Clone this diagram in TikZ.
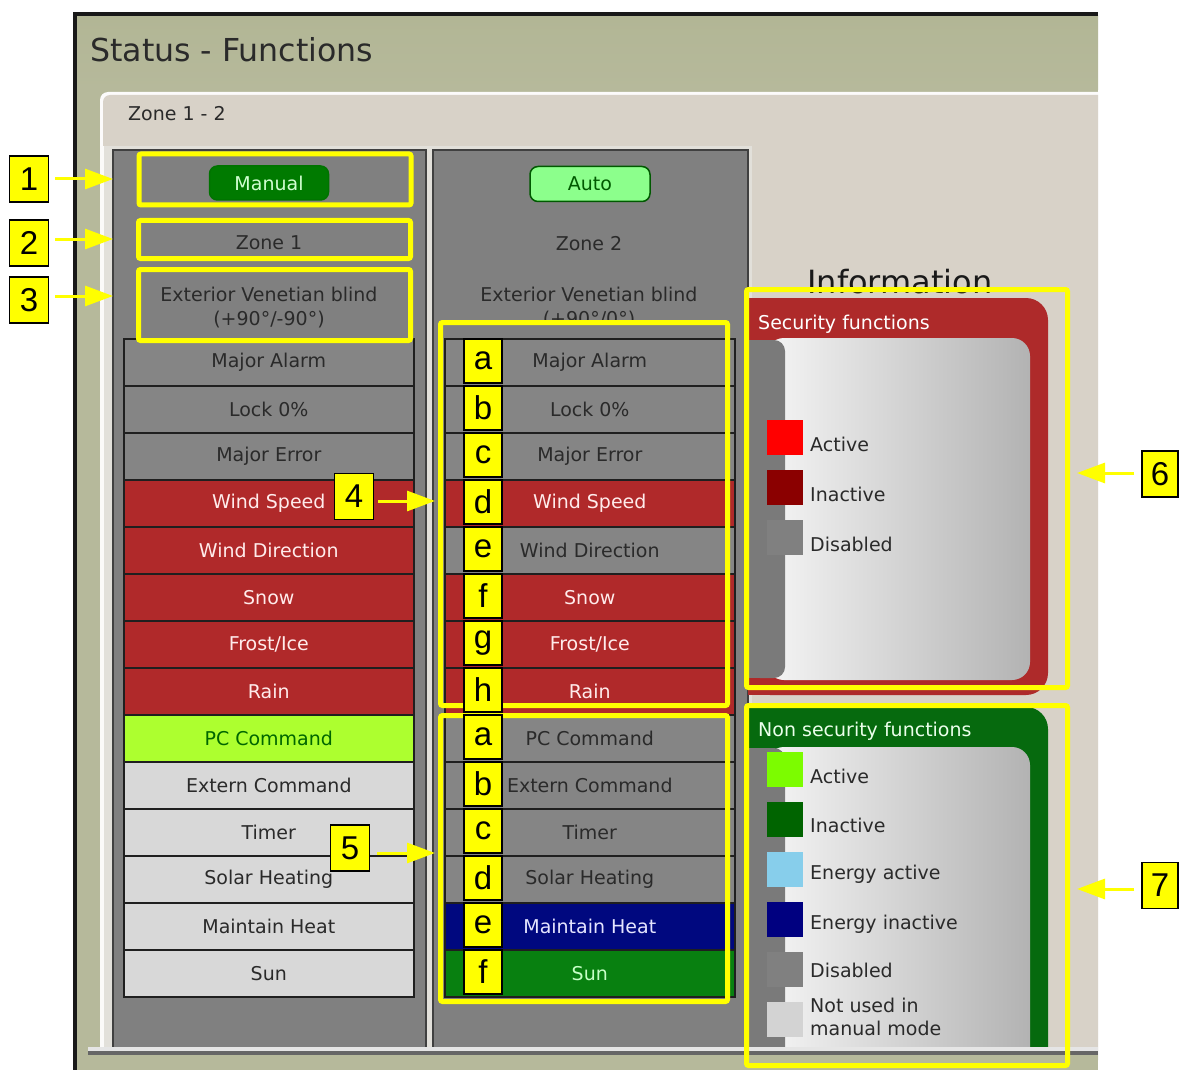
\documentclass[tikz,border=0pt]{standalone}
\usepackage{fontspec}
\setmainfont{DejaVu Sans}
\newfontfamily\calloutfont{Liberation Sans}
\usetikzlibrary{arrows.meta}

\definecolor{winolive}{HTML}{B6B99B}
\definecolor{wintitle}{HTML}{B2B695}
\definecolor{tabbg}{HTML}{D8D2C8}
\definecolor{pagebg}{HTML}{E2E0DA}
\definecolor{colgrey}{HTML}{808080}
\definecolor{rowgrey}{HTML}{858585}
\definecolor{rowred}{HTML}{B0292A}
\definecolor{rowlime}{HTML}{ADFF2F}
\definecolor{rowlight}{HTML}{D8D8D8}
\definecolor{rownavy}{HTML}{00087F}
\definecolor{rowgreen}{HTML}{088010}
\definecolor{secred}{HTML}{AE2A2A}
\definecolor{nsgreen}{HTML}{066A0E}
\definecolor{swred}{HTML}{FF0000}
\definecolor{swdarkred}{HTML}{8B0000}
\definecolor{swlime}{HTML}{7CFC00}
\definecolor{swgreen}{HTML}{006400}
\definecolor{swsky}{HTML}{87CEEB}
\definecolor{swnavy}{HTML}{000080}
\definecolor{swlight}{HTML}{D3D3D3}
\definecolor{callout}{HTML}{FFFF00}
\definecolor{uitext}{HTML}{2A2A2A}

\newcommand{\uifont}{\fontsize{19}{23}\selectfont}
\newcommand{\callfont}{\calloutfont\fontsize{33}{33}\selectfont}

\begin{document}
\begin{tikzpicture}[x=1pt,y=-1pt,
  fnrow/.style={draw=black!88, line width=1.6pt, minimum width=290pt,
    minimum height=47pt, inner sep=0pt, anchor=north west, font=\uifont},
  offrow/.style={fnrow, fill=rowgrey, text=uitext},
  redrow/.style={fnrow, fill=rowred, text=white!92!red},
  limerow/.style={fnrow, fill=rowlime, text=green!40!black},
  lightrow/.style={fnrow, fill=rowlight, text=uitext},
  navyrow/.style={fnrow, fill=rownavy, text=white!90!blue},
  greenrow/.style={fnrow, fill=rowgreen, text=green!22!white},
  uitxt/.style={font=\uifont, text=uitext, inner sep=0pt},
  swatch/.style={minimum width=36pt, minimum height=35pt, inner sep=0pt},
  legtext/.style={font=\uifont, text=uitext, anchor=west, inner sep=0pt, align=left},
  frame/.style={draw=callout, line width=5pt, rounded corners=2pt, inner sep=0pt},
  callbox/.style={draw=black, line width=1.5pt, fill=callout, inner sep=0pt,
    minimum width=39pt, minimum height=46pt, font=\callfont},
  letterbox/.style={draw=black, line width=1.5pt, fill=callout, inner sep=0pt,
    minimum width=38pt, minimum height=44pt, font=\callfont},
  callarrow/.style={draw=callout, line width=3pt, -{Triangle[length=28pt,width=20pt]}}
]
\useasboundingbox (0,0) rectangle (1179,1070);
\fill[white] (0,0) rectangle (1179,1070);

\begin{scope}
\clip (73,12) rectangle (1098,1070);
% ---- window frame and title bar ----
\fill[winolive] (73,12) rectangle (1098,1070);
\shade[top color=wintitle, bottom color=winolive] (77,16) rectangle (1098,90);
\fill[black!90] (73,12) rectangle (1098,16);
\fill[black!90] (73,12) rectangle (77,1070);
\node[anchor=base west, font=\fontsize{31.6}{36}\selectfont, text=uitext, inner sep=0pt]
  (title) at (90,62) {Status - Functions};

% ---- tab page ----
\fill[white!92!tabbg, rounded corners=8pt] (100,92) rectangle (1110,1060);
\fill[tabbg, rounded corners=7pt] (103,95) rectangle (1110,1060);
\node[uitxt, anchor=west] (tab) at (128,114) {Zone 1 - 2};
\fill[pagebg] (100,146) rectangle (752,1048);
\fill[white!85!pagebg] (100,146) rectangle (104,1048);

% ---- zone columns ----
\fill[colgrey] (113,150) rectangle (426,1048);
\draw[black!75, line width=2.5pt] (113,1048) -- (113,150) -- (426,150) -- (426,1048);
\fill[colgrey] (433,150) rectangle (748,1048);
\draw[black!75, line width=2.5pt] (433,1048) -- (433,150) -- (748,150) -- (748,1048);

% mode buttons
\node[draw=black!55!green, line width=1.5pt, fill=green!48!black, rounded corners=8pt,
  minimum width=119pt, minimum height=34pt, inner sep=0pt, font=\uifont,
  text=green!18!white] (manual) at (269,183) {Manual};
\node[draw=green!35!black, line width=1.5pt, fill=green!45!white, rounded corners=8pt,
  minimum width=120pt, minimum height=35pt, inner sep=0pt, font=\uifont,
  text=green!35!black] (auto) at (590,184) {Auto};

\node[uitxt] (zone1) at (269,243) {Zone 1};
\node[uitxt] (zone2) at (589,244) {Zone 2};
\node[uitxt] (blind1) at (269,294) {Exterior Venetian blind};
\node[uitxt] (range1) at (269,320) {(+90°/-90°)};
\node[uitxt] (blind2) at (589,294) {Exterior Venetian blind};
\begin{scope}
  \clip (433,300) rectangle (748,322);
  \node[uitxt] (range2) at (589,320) {(+90°/0°)};
\end{scope}

% zone 1 functions
\node[offrow]   (a1)  at (123,338) {Major Alarm};
\node[offrow]   (a2)  at (123,385) {Lock 0\%};
\node[offrow]   (a3)  at (123,432) {Major Error};
\node[redrow]   (a4)  at (123,479) {Wind Speed};
\node[redrow]   (a5)  at (123,526) {Wind Direction};
\node[redrow]   (a6)  at (123,573) {Snow};
\node[redrow]   (a7)  at (123,620) {Frost/Ice};
\node[redrow]   (a8)  at (123,667) {Rain};
\node[limerow]  (a9)  at (123,714) {PC Command};
\node[lightrow] (a10) at (123,761) {Extern Command};
\node[lightrow] (a11) at (123,808) {Timer};
\node[lightrow] (a12) at (123,855) {Solar Heating};
\node[lightrow] (a13) at (123,902) {Maintain Heat};
\node[lightrow] (a14) at (123,949) {Sun};

% zone 2 functions
\node[offrow]   (b1)  at (444,338) {Major Alarm};
\node[offrow]   (b2)  at (444,385) {Lock 0\%};
\node[offrow]   (b3)  at (444,432) {Major Error};
\node[redrow]   (b4)  at (444,479) {Wind Speed};
\node[offrow]   (b5)  at (444,526) {Wind Direction};
\node[redrow]   (b6)  at (444,573) {Snow};
\node[redrow]   (b7)  at (444,620) {Frost/Ice};
\node[redrow]   (b8)  at (444,667) {Rain};
\node[offrow]   (b9)  at (444,714) {PC Command};
\node[offrow]   (b10) at (444,761) {Extern Command};
\node[offrow]   (b11) at (444,808) {Timer};
\node[offrow]   (b12) at (444,855) {Solar Heating};
\node[navyrow]  (b13) at (444,902) {Maintain Heat};
\node[greenrow] (b14) at (444,949) {Sun};

% ---- information legend ----
\node[anchor=base, font=\fontsize{32}{36}\selectfont, text=black!90, inner sep=0pt]
  (info) at (900,293) {Information};

% security functions
\fill[secred, rounded corners=22pt] (748,298) rectangle (1048,695);
\fill[secred] (748,298) rectangle (780,330);
\fill[secred] (748,660) rectangle (780,695);
\node[anchor=west, font=\uifont, text=white, inner sep=0pt] (sechead) at (758,324) {Security functions};
\shade[left color=white!96!black, right color=black!30, rounded corners=18pt] (766,338) rectangle (1030,680);
\fill[colgrey!95!black, rounded corners=11pt] (749,340) rectangle (785,678);
\fill[colgrey!95!black] (749,340) rectangle (765,678);
\node[swatch, fill=swred]     (s1) at (785,437.5) {};
\node[swatch, fill=swdarkred] (s2) at (785,487.5) {};
\node[swatch, fill=colgrey]   (s3) at (785,537.5) {};
\node[legtext] (s1t) at (810,444) {Active};
\node[legtext] (s2t) at (810,494) {Inactive};
\node[legtext] (s3t) at (810,544) {Disabled};

% non security functions
\fill[nsgreen, rounded corners=22pt] (748,707) rectangle (1048,1080);
\fill[nsgreen] (748,707) rectangle (780,740);
\node[anchor=west, font=\uifont, text=white!92!green, inner sep=0pt] (nshead) at (758,731) {Non security functions};
\shade[left color=white!96!black, right color=black!30, rounded corners=18pt] (766,747) rectangle (1030,1080);
\fill[colgrey!95!black, rounded corners=11pt] (749,748) rectangle (785,1080);
\fill[colgrey!95!black] (749,748) rectangle (765,1080);
\node[swatch, fill=swlime]  (n1) at (785,769.5) {};
\node[swatch, fill=swgreen] (n2) at (785,819.5) {};
\node[swatch, fill=swsky]   (n3) at (785,869.5) {};
\node[swatch, fill=swnavy]  (n4) at (785,919.5) {};
\node[swatch, fill=colgrey] (n5) at (785,969.5) {};
\node[swatch, fill=swlight] (n6) at (785,1019.5) {};
\node[legtext] (n1t) at (810,776) {Active};
\node[legtext] (n2t) at (810,825) {Inactive};
\node[legtext] (n3t) at (810,874) {Energy active};
\node[legtext] (n4t) at (810,924) {Energy inactive};
\node[legtext] (n5t) at (810,970) {Disabled};
\node[legtext] (n6t) at (810,1017) {Not used in\\manual mode};

% ---- window bottom edge ----
\fill[white!90!black] (88,1047) rectangle (1098,1051);
\fill[black!60] (88,1051) rectangle (1098,1055);
\fill[winolive] (77,1055) rectangle (1098,1070);
\fill[black!90] (73,1047) rectangle (77,1070);
\end{scope}

% ---- callout frames ----
\node[frame, minimum width=272pt, minimum height=51pt]  (f1) at (275,179.5) {};
\node[frame, minimum width=272pt, minimum height=38pt]  (f2) at (274.5,239.5) {};
\node[frame, minimum width=272pt, minimum height=71pt]  (f3) at (274.5,305) {};
\node[frame, minimum width=287pt, minimum height=383pt] (f4) at (584,514) {};
\node[frame, minimum width=287pt, minimum height=286pt] (f5) at (584,858.5) {};
\node[frame, minimum width=321pt, minimum height=398pt] (f6) at (907,488.5) {};
\node[frame, minimum width=321pt, minimum height=360pt] (f7) at (907,885.5) {};

% row letters
\node[letterbox] (la) at (483,361) {a};
\node[letterbox] (lb) at (483,408) {b};
\node[letterbox] (lc) at (483,455) {c};
\node[letterbox] (ld) at (483,502) {d};
\node[letterbox] (le) at (483,549) {e};
\node[letterbox] (lf) at (483,596) {f};
\node[letterbox] (lg) at (483,643) {g};
\node[letterbox] (lh) at (483,690) {h};
\node[letterbox] (ma) at (483,737) {a};
\node[letterbox] (mb) at (483,784) {b};
\node[letterbox] (mc) at (483,831) {c};
\node[letterbox] (md) at (483,878) {d};
\node[letterbox] (me) at (483,925) {e};
\node[letterbox] (mf) at (483,972) {f};

% numbered callouts
\node[callbox] (c1) at (29,179) {1};
\node[callbox] (c2) at (29,243) {2};
\node[callbox] (c3) at (29,300) {3};
\node[callbox] (c4) at (354,496.5) {4};
\node[callbox] (c5) at (350,848) {5};
\node[callbox, minimum width=36pt] (c6) at (1160,474) {6};
\node[callbox, minimum width=36pt] (c7) at (1160,885.5) {7};

\coordinate (p1) at (113,179);
\coordinate (p2) at (113,239);
\coordinate (p3) at (113,296);
\coordinate (p4) at (435,501);
\coordinate (p5) at (435,853);
\coordinate (p6) at (1077,473);
\coordinate (p7) at (1077,889);

\draw[callarrow, shorten <=6pt] (c1.east |- p1) -- (p1);
\draw[callarrow, shorten <=6pt] (c2.east |- p2) -- (p2);
\draw[callarrow, shorten <=6pt] (c3.east |- p3) -- (p3);
\draw[callarrow, shorten <=4pt] (c4.east |- p4) -- (p4);
\draw[callarrow, shorten <=7pt] (c5.east |- p5) -- (p5);
\draw[callarrow, shorten <=7pt] (c6.west |- p6) -- (p6);
\draw[callarrow, shorten <=7pt] (c7.west |- p7) -- (p7);
\end{tikzpicture}
\end{document}
